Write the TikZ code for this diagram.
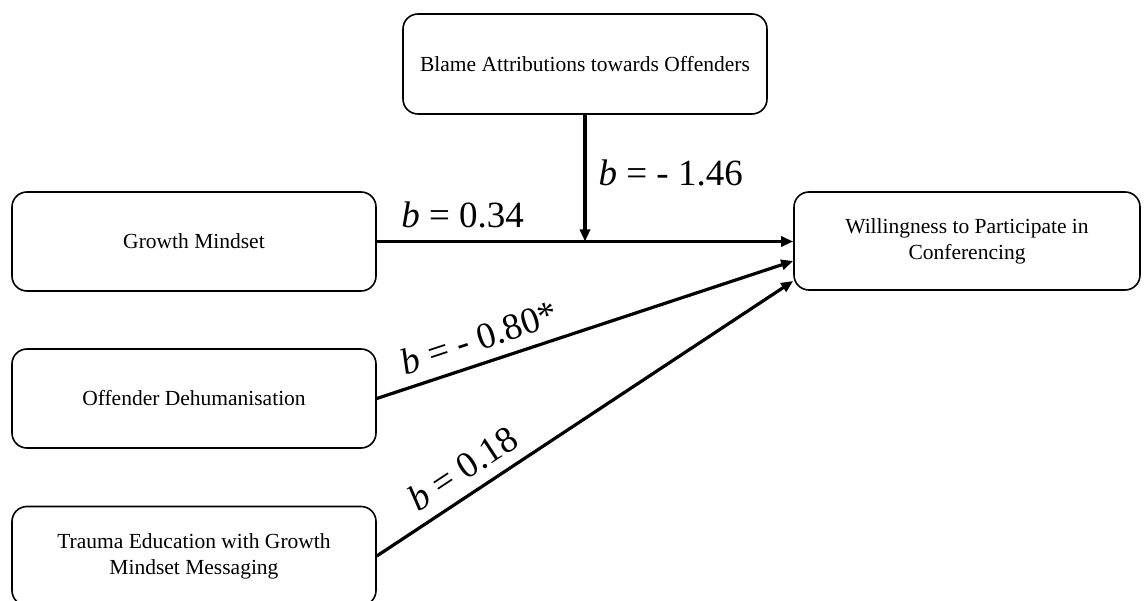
\documentclass[tikz,border=0pt]{standalone}
\usepackage{fontspec}
\setmainfont{Liberation Serif}
\usetikzlibrary{arrows.meta}
\begin{document}
\begin{tikzpicture}[x=1pt,y=-1pt,
  box/.style={draw, line width=1.6pt, rounded corners=15pt, align=center,
    font=\fontsize{21.5}{26}\selectfont, inner sep=0pt},
  conn/.style={line width=3.2pt, -{Triangle[length=12pt,width=10pt]}},
  lab/.style={font=\fontsize{37}{40}\selectfont, inner sep=0pt}]
\useasboundingbox (0,0) rectangle (1146,601);
\clip (0,0) rectangle (1146,601);
\fill[white] (0,0) rectangle (1146,601);
\node[box, minimum width=364pt, minimum height=100pt] (blame) at (585,64) {Blame Attributions towards Offenders};
\node[box, minimum width=364pt, minimum height=99pt] (growth) at (194,241.5) {Growth Mindset};
\node[box, minimum width=346pt, minimum height=98pt] (will) at (967,241) {Willingness to Participate in\\Conferencing};
\node[box, minimum width=364pt, minimum height=99pt] (off) at (194,398.5) {Offender Dehumanisation};
\node[box, minimum width=364pt, minimum height=99pt] (trauma) at (194,556) {Trauma Education with Growth\\Mindset Messaging};
\coordinate (j) at (blame.south |- growth.east);
\draw[conn] (growth.east) -- node[lab, pos=0.206, above=12pt] {\textit{b} = 0.34} (growth.east -| will.west);
\draw[conn] (blame.south) -- node[lab, pos=0.46, right=12pt] {\textit{b} = - 1.46} (j);
\draw[conn] (off.east) -- node[lab, pos=0.265, sloped, above=11pt] {\textit{b} = - 0.80*} ([yshift=-20pt]will.west);
\draw[conn] (trauma.east) -- node[lab, pos=0.24, sloped, above=11pt] {\textit{b} = 0.18} ([yshift=-40pt]will.west);
\end{tikzpicture}
\end{document}
